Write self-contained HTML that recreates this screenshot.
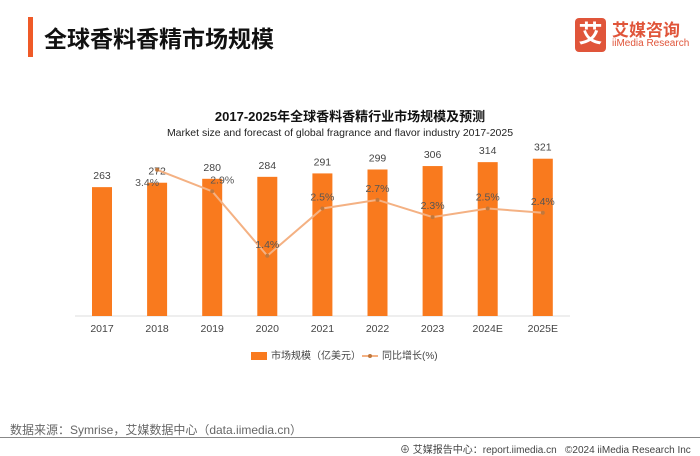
<!DOCTYPE html>
<html><head><meta charset="utf-8"><style>
body{margin:0;width:700px;height:455px;background:#fff;overflow:hidden;font-family:"Liberation Sans","Noto Sans CJK SC",sans-serif;position:relative}
.a{position:absolute;white-space:nowrap}
</style></head><body>
<div class="a" style="left:28px;top:17px;width:5px;height:40px;background:#ef5a28"></div>
<div class="a" style="left:44px;top:20px;font-size:23px;font-weight:bold;color:#111">全球香料香精市场规模</div>
<div class="a" style="left:575px;top:18px;width:31px;height:34px;background:#e0553a;border-radius:4px;color:#fff;font-size:24px;font-weight:bold;text-align:center;line-height:34px">艾</div>
<div class="a" style="left:612px;top:16px;font-size:17px;font-weight:bold;color:#e0553a">艾媒咨询</div>
<div class="a" style="left:612px;top:38px;font-size:10px;color:#e0553a">iiMedia Research</div>
<div class="a" style="left:0;width:700px;text-align:center;top:106px;font-size:13px;font-weight:bold;color:#111">2017-2025年全球香料香精行业市场规模及预测</div>
<div class="a" style="left:0;width:680px;text-align:center;top:127px;font-size:10.5px;color:#222">Market size and forecast of global fragrance and flavor industry 2017-2025</div>
<svg class="a" style="left:0;top:0" width="700" height="455" id="svg"></svg>
<div class="a" style="left:251px;top:347px;font-size:10px;color:#444"><span style="display:inline-block;width:16px;height:8px;background:#f97a1e;vertical-align:middle;margin-right:4px"></span>市场规模（亿美元）</div>
<div class="a" style="left:362px;top:347px;font-size:10px;color:#444"><span style="display:inline-block;width:16px;height:2px;background:#f4b183;vertical-align:middle;margin-right:4px;position:relative"><span style="position:absolute;left:6px;top:-1.5px;width:4px;height:4px;border-radius:2px;background:#c0783e"></span></span>同比增长(%)</div>
<div class="a" style="left:10px;top:421px;font-size:12px;color:#666">数据来源：Symrise，艾媒数据中心（data.iimedia.cn）</div>
<div class="a" style="left:0;top:437px;width:700px;height:1px;background:#888"></div>
<div class="a" style="left:400px;top:441px;font-size:10px;color:#444">⊕ 艾媒报告中心：report.iimedia.cn &nbsp; ©2024 iiMedia Research Inc</div>
<script>
const categories=["2017","2018","2019","2020","2021","2022","2023","2024E","2025E"];
const marketSize=[263,272,280,284,291,299,306,314,321];
const growth=[null,3.4,2.9,1.4,2.5,2.7,2.3,2.5,2.4];
const growthLabels=["","3.4%","2.9%","1.4%","2.5%","2.7%","2.3%","2.5%","2.4%"];
const svg=document.getElementById('svg');const NS="http://www.w3.org/2000/svg";
const base=316,x0=102,step=55.1,bw=20;
const xs=i=>x0+i*step, yBar=v=>base-v*0.49, yLine=v=>base-v*43;
function mk(t,a,txt){const e=document.createElementNS(NS,t);for(const k in a)e.setAttribute(k,a[k]);if(txt!=null)e.textContent=txt;svg.appendChild(e);return e;}
const ax=mk('line',{x1:75,x2:570,y1:base,y2:base,stroke:'#ddd'});


categories.forEach((c,i)=>{
 const r=mk('rect',{x:xs(i)-bw/2,y:yBar(marketSize[i]),width:bw,height:base-yBar(marketSize[i]),fill:'#f97a1e'});
 
 
 const v=mk('text',{x:xs(i),y:yBar(marketSize[i])-8,'text-anchor':'middle','font-size':10.5,fill:'#444'},marketSize[i]);
 
 
 const t=mk('text',{x:xs(i),y:base+16,'text-anchor':'middle','font-size':10.5,fill:'#444'},c);
 
 
});
let pts=[];growth.forEach((g,i)=>{if(g!=null)pts.push(xs(i)+','+yLine(g));});
const pl=mk('polyline',{points:pts.join(' '),fill:'none',stroke:'#f4b183','stroke-width':2});


growth.forEach((g,i)=>{if(g==null)return;
 const d=mk('circle',{cx:xs(i),cy:yLine(g),r:2,fill:'#c0783e'});
 
 
 let dx=0,dy=-8;
 if(i===1){dx=-10;dy=16;} else if(i===2){dx=10;dy=-8;}
 const l=mk('text',{x:xs(i)+dx,y:yLine(g)+dy,'text-anchor':'middle','font-size':10.5,fill:'#555'},growthLabels[i]);
 
 
});
</script>
</body></html>
